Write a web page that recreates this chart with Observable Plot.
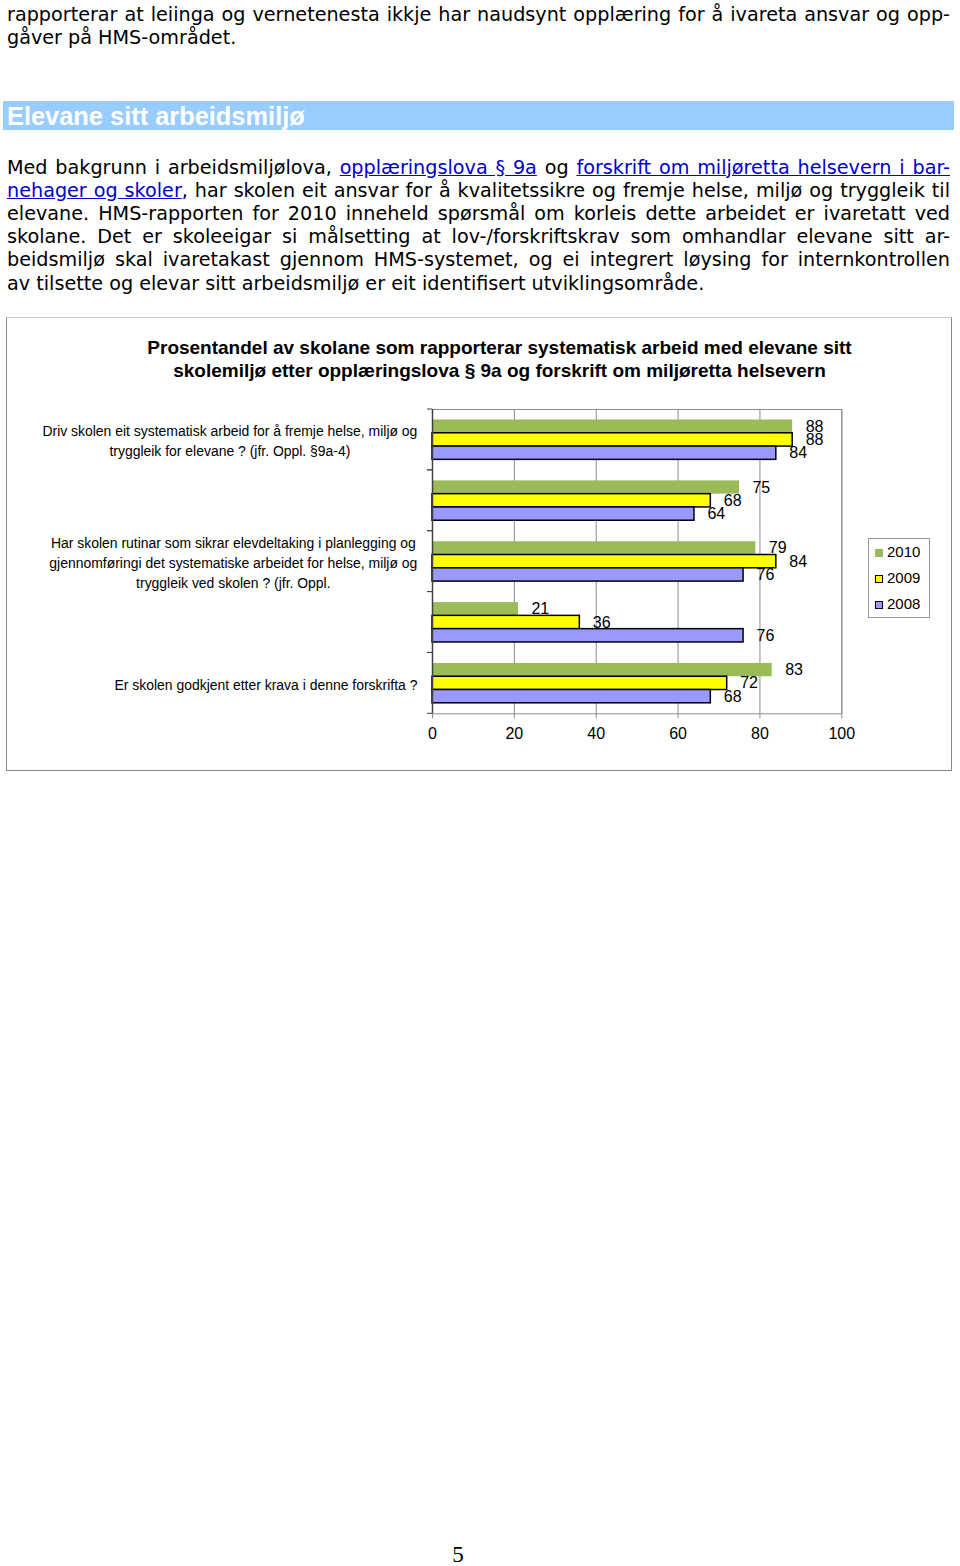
<!DOCTYPE html>
<html>
<head>
<meta charset="utf-8">
<script src="https://cdn.jsdelivr.net/npm/d3@7"></script>
<script src="https://cdn.jsdelivr.net/npm/@observablehq/plot@0.6"></script>
<style>
  html, body { margin: 0; padding: 0; background: #fff; }
  body { position: relative; width: 960px; height: 1566px; overflow: hidden; }
  .txt { position: absolute; left: 7px; width: 943px; font-family: "DejaVu Sans", Verdana, sans-serif; font-size: 19.2px; line-height: 23.2px; color: #000; }
  .txt .j { text-align: justify; text-align-last: justify; white-space: nowrap; }
  .txt a { color: #0000cc; text-decoration: underline; }
  #band { position: absolute; left: 3px; top: 101px; width: 951px; height: 29px; background: #99ccff; color: #fff; font-family: "Liberation Sans", Arial, sans-serif; font-weight: bold; font-size: 25.4px; line-height: 30px; box-sizing: border-box; padding-left: 4px; }
  #box { position: absolute; left: 6px; top: 317px; width: 944px; height: 452px; border: 1px solid #8a8a8a; border-top-color: #c8c8c8; }
  #title { position: absolute; left: 50px; width: 899px; top: 335.5px; text-align: center; font-family: "Liberation Sans", Arial, sans-serif; font-weight: bold; font-size: 19px; line-height: 23px; color: #000; }
  #chart { position: absolute; left: 0; top: 395px; }
  #legend { position: absolute; left: 868px; top: 538px; width: 60px; height: 78px; border: 1px solid #9a9a9a; font-family: "Liberation Sans", Arial, sans-serif; font-size: 15px; }
  #legend .item { position: absolute; left: 6px; height: 18px; line-height: 18px; }
  #legend .sw { display: inline-block; width: 8px; height: 8px; margin-right: 4px; vertical-align: 0px; box-sizing: border-box; }
  #pagenum { position: absolute; left: 440px; width: 36px; top: 1541px; text-align: center; font-family: "Liberation Serif", "Times New Roman", serif; font-size: 23px; line-height: 28px; }
</style>
</head>
<body>
<div class="txt" style="top:2.5px">
  <div class="j">rapporterar at leiinga og vernetenesta ikkje har naudsynt opplæring for å ivareta ansvar og opp-</div>
  <div>gåver på HMS-området.</div>
</div>
<div id="band">Elevane sitt arbeidsmiljø</div>
<div class="txt" style="top:155.5px">
  <div class="j">Med bakgrunn i arbeidsmiljølova, <a>opplæringslova § 9a</a> og <a>forskrift om miljøretta helsevern i bar-</a></div>
  <div class="j"><a>nehager og skoler</a>, har skolen eit ansvar for å kvalitetssikre og fremje helse, miljø og tryggleik til</div>
  <div class="j">elevane. HMS-rapporten for 2010 inneheld spørsmål om korleis dette arbeidet er ivaretatt ved</div>
  <div class="j">skolane. Det er skoleeigar si målsetting at lov-/forskriftskrav som omhandlar elevane sitt ar-</div>
  <div class="j">beidsmiljø skal ivaretakast gjennom HMS-systemet, og ei integrert løysing for internkontrollen</div>
  <div>av tilsette og elevar sitt arbeidsmiljø er eit identifisert utviklingsområde.</div>
</div>
<div id="box"></div>
<div id="title">Prosentandel av skolane som rapporterar systematisk arbeid med elevane sitt<br>skolemiljø etter opplæringslova § 9a og forskrift om miljøretta helsevern</div>
<div id="chart"></div>
<div id="legend"></div>
<div id="pagenum">5</div>
<script>
// ---- data ----
const years = ["2010", "2009", "2008"];
const yearColors = ["#9bbb59", "#ffff00", "#9999ff"];
const questionIds = ["q1", "q2", "q3", "q4", "q5"];
const questionLabels = [
  "Driv skolen eit systematisk arbeid for å fremje helse, miljø og\ntryggleik for elevane ? (jfr. Oppl. §9a-4)",
  "",
  "Har skolen rutinar som sikrar elevdeltaking i planlegging og\ngjennomføringi det systematiske arbeidet for helse, miljø og\ntryggleik ved skolen ? (jfr. Oppl.",
  "",
  "Er skolen godkjent etter krava i denne forskrifta ?"
];
const values2010 = [88, 75, 79, 21, 83];
const values2009 = [88, 68, 84, 36, 72];
const values2008 = [84, 64, 76, 76, 68];
const xTicks = [0, 20, 40, 60, 80, 100];

const seriesValues = [values2010, values2009, values2008];
const rows = questionIds.flatMap((id, i) => years.map((year, j) => ({id, year, value: seriesValues[j][i]})));

// ---- label font (condensed look) ----
const labelFont = "Liberation Sans Narrow, Liberation Sans, Arial, sans-serif";
const labelSize = 15.5;
const labelSquash = 0.9;
const ctx = document.createElement("canvas").getContext("2d");
ctx.font = `${labelSize}px "Liberation Sans", Arial, sans-serif`;
const labelWidth = (s) => labelSquash * d3.max(s.split("\n"), (l) => ctx.measureText(l).width);

function boundaryTicks(index, scales, values, dims) {
  const g = d3.create("svg:g").attr("stroke", "#404040").attr("stroke-width", 1);
  const x0 = dims.marginLeft;
  for (const y of [dims.marginTop, dims.height - dims.marginBottom]) {
    g.append("line").attr("x1", x0 - 5).attr("x2", x0).attr("y1", y).attr("y2", y);
  }
  return g.node();
}

const labelMarks = questionIds
  .map((id, i) => questionLabels[i]
    ? Plot.text([id], {
        fy: (d) => d,
        frameAnchor: "left",
        text: () => questionLabels[i],
        textAnchor: "middle",
        dx: -(15 + labelWidth(questionLabels[i]) / 2),
        fontSize: labelSize,
        fontFamily: labelFont,
        lineHeight: 1.3,
        fill: "#000"
      })
    : null)
  .filter(Boolean);

const chart = Plot.plot({
  width: 960,
  height: 360,
  marginLeft: 432,
  marginRight: 118.7,
  marginTop: 14,
  marginBottom: 41.7,
  style: {fontFamily: '"Liberation Sans", Arial, sans-serif', fontSize: "16px", background: "transparent", overflow: "visible"},
  x: {domain: [0, 100]},
  y: {domain: years, paddingInner: 0, paddingOuter: 0.79, axis: null, round: false},
  fy: {domain: questionIds, padding: 0, axis: null, round: false},
  color: {domain: years, range: yearColors},
  marks: [
    Plot.gridX({ticks: xTicks.slice(1), stroke: "#8c8c8c", strokeOpacity: 1}),
    Plot.frame({facet: "super", stroke: "#8c8c8c"}),
    Plot.barX(rows.filter((d) => d.year === years[0]), {fy: "id", y: "year", x: "value", fill: "year"}),
    Plot.barX(rows.filter((d) => d.year !== years[0]), {fy: "id", y: "year", x: "value", fill: "year", stroke: "#000", strokeWidth: 1.5}),
    Plot.ruleX([0], {stroke: "#404040", strokeWidth: 1.5}),
    boundaryTicks,
    Plot.text(rows, {fy: "id", y: "year", x: "value", text: (d) => String(d.value), textAnchor: "start", dx: 13, fontSize: 16, fill: "#000"}),
    Plot.axisX({ticks: xTicks, tickSize: 5, tickPadding: 9, stroke: "#8c8c8c", fill: "#000", fontSize: 16, label: null, tickFormat: (d) => String(d)}),
    ...labelMarks
  ]
});
// give the question labels a condensed (Arial Narrow-like) look
d3.select(chart).selectAll(`g[font-family="${labelFont}"] text`).each(function () {
  const t = this.getAttribute("transform") || "";
  this.setAttribute("transform", `${t} scale(${labelSquash},1)`.trim());
});
document.getElementById("chart").appendChild(chart);

// ---- legend ----
const legend = d3.select("#legend");
years.forEach((yr, j) => {
  const item = legend.append("div").attr("class", "item").style("top", `${4 + j * 26}px`);
  item.append("span").attr("class", "sw")
    .style("background", yearColors[j])
    .style("border", j === 0 ? "none" : "1.5px solid #000");
  item.append("span").text(yr);
});
</script>
</body>
</html>
